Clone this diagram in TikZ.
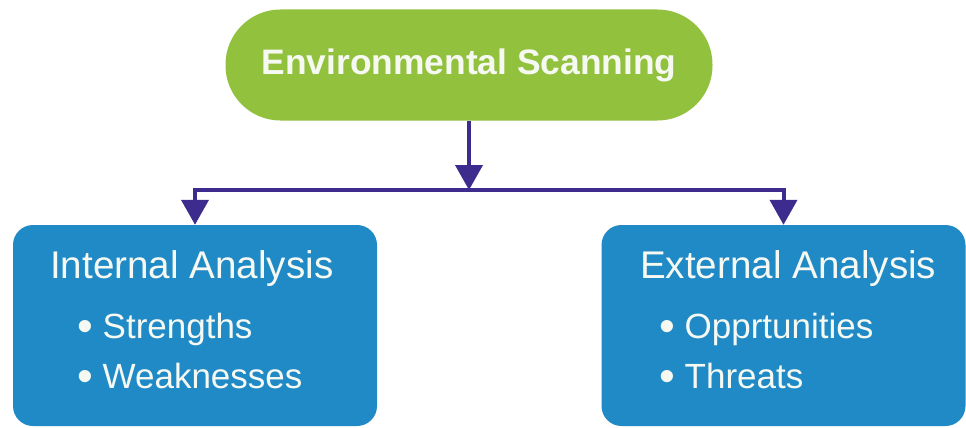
\documentclass[tikz,border=0pt]{standalone}
\usepackage{fontspec}
\setmainfont{Liberation Sans}
\usetikzlibrary{arrows.meta}
\definecolor{scangreen}{HTML}{92C13E}
\definecolor{boxblue}{HTML}{1F8AC6}
\definecolor{arrowpurple}{HTML}{3D2C8D}
\definecolor{txtwhite}{HTML}{F6F8F2}
\newcommand{\bigbul}{{\fontsize{45}{45}\selectfont\raisebox{-3pt}{•}}}
\tikzset{
  pill/.style={fill=scangreen, draw=none, rounded corners=55pt, minimum width=487pt, minimum height=111pt, inner sep=0pt, text=txtwhite, font=\fontsize{35.4}{40}\selectfont\bfseries},
  bluebox/.style={fill=boxblue, draw=none, rounded corners=20pt, minimum width=364pt, minimum height=201pt, inner sep=0pt},
  boxtitle/.style={anchor=base west, inner sep=0pt, text=txtwhite, font=\fontsize{38.6}{44}\selectfont},
  bulletitem/.style={anchor=base west, inner sep=0pt, text=txtwhite, font=\fontsize{35}{40}\selectfont},
  conn/.style={draw=arrowpurple, line width=4pt, -{Triangle[width=27pt,length=25pt]}}
}
\begin{document}
\begin{tikzpicture}[x=1pt,y=-1pt]
\useasboundingbox[fill=white] (0,0) rectangle (966,428);
\node[pill] (scan) at (469,65) {Environmental Scanning};
\node[bluebox] (internal) at (195,325.5) {};
\node[bluebox] (external) at (783.5,325.5) {};
\coordinate (junction) at (469,190);
% horizontal and drops
\draw[conn] (junction) -| (internal.north);
\draw[conn] (junction) -| (external.north);
\draw[conn] (scan.south) -- (junction);
% texts
\node[boxtitle] (intitle) at (50,278) {Internal Analysis};
\node[bulletitem] (instr) at (77,338) {\bigbul\ Strengths};
\node[bulletitem] (inweak) at (77,388) {\bigbul\ Weaknesses};
\node[boxtitle] (extitle) at (640,278) {External Analysis};
\node[bulletitem] (exopp) at (659,338) {\bigbul\ Opprtunities};
\node[bulletitem] (exthr) at (659,388) {\bigbul\ Threats};
\end{tikzpicture}
\end{document}
